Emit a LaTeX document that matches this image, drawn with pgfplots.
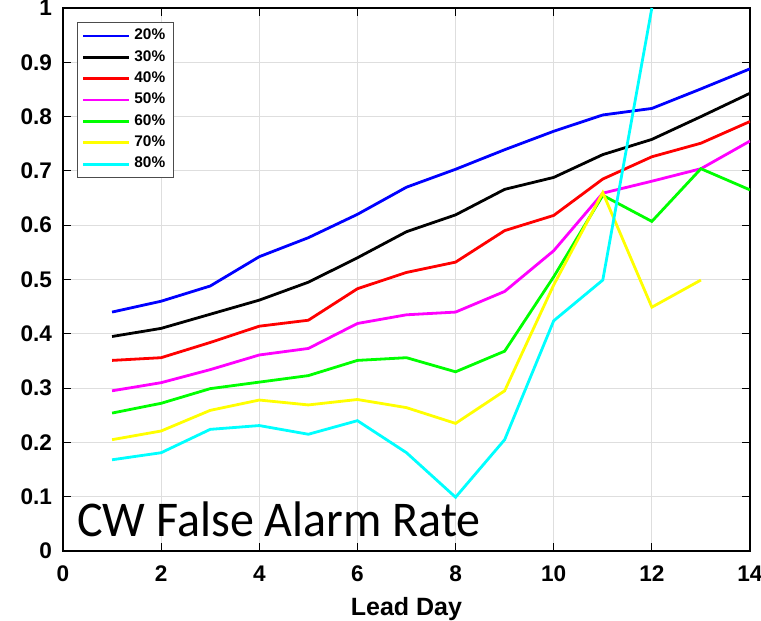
\documentclass[border=0pt]{standalone}
\usepackage{pgfplots}
\pgfplotsset{compat=1.18}
\usepackage{fontspec}
\setmainfont{Liberation Sans}
\newfontfamily\tickfont{Liberation Sans Bold}
\newfontfamily\calibri[FakeStretch=0.96]{Carlito}
\definecolor{cBlue}{RGB}{0,0,255}
\definecolor{cBlack}{RGB}{0,0,0}
\definecolor{cRed}{RGB}{255,0,0}
\definecolor{cMagenta}{RGB}{255,0,255}
\definecolor{cGreen}{RGB}{0,255,0}
\definecolor{cYellow}{RGB}{255,255,0}
\definecolor{cCyan}{RGB}{0,255,255}
\begin{document}
\begin{tikzpicture}
\useasboundingbox (-31.5pt,-35pt) rectangle (349pt,275.5pt);
\begin{axis}[
    at={(0,0)}, anchor=south west,
    scale only axis,
    width=343.5pt,
    height=271.5pt,
    xmin=0, xmax=14,
    ymin=0, ymax=1,
    xtick={0,2,...,14},
    ytick={0,0.1,...,1},
    yticklabels={0,0.1,0.2,0.3,0.4,0.5,0.6,0.7,0.8,0.9,1},
    tick align=inside,
    tick style={black, line width=0.5pt},
    major tick length=4pt,
    xmajorgrids, ymajorgrids,
    grid style={black!13, line width=0.5pt},
    axis line style={black, line width=0.6pt},
    ticklabel style={font=\tickfont\fontsize{11.3}{11.3}\selectfont},
    xticklabel style={yshift=-4pt},
    yticklabel style={xshift=-2pt},
    /pgf/number format/assume math mode=true,
    xlabel={Lead Day},
    xlabel style={font=\tickfont\fontsize{12.5}{12.5}\selectfont, yshift=-1pt},
    legend style={at={(rel axis cs:0.0204,0.974)}, anchor=north west,
        font=\tickfont\fontsize{7.7}{9}\selectfont, draw=black!70, line width=0.6pt,
        row sep=-0.2pt, inner xsep=2pt, inner ysep=1.2pt},
    legend cell align=left,
    legend image code/.code={\draw[#1] (0pt,0pt) -- (23pt,0pt);},
    every axis plot/.append style={line width=1.4pt},
]
\addplot[cBlue] coordinates {(1,0.44) (2,0.46) (3,0.488) (4,0.542) (5,0.577) (6,0.62) (7,0.67) (8,0.703) (9,0.739) (10,0.773) (11,0.803) (12,0.815) (13,0.851) (14,0.888)};
\addplot[cBlack] coordinates {(1,0.395) (2,0.41) (3,0.436) (4,0.462) (5,0.495) (6,0.54) (7,0.588) (8,0.619) (9,0.666) (10,0.688) (11,0.73) (12,0.758) (13,0.8) (14,0.843)};
\addplot[cRed] coordinates {(1,0.351) (2,0.356) (3,0.384) (4,0.414) (5,0.425) (6,0.483) (7,0.513) (8,0.532) (9,0.59) (10,0.618) (11,0.685) (12,0.726) (13,0.751) (14,0.791)};
\addplot[cMagenta] coordinates {(1,0.295) (2,0.31) (3,0.334) (4,0.361) (5,0.373) (6,0.419) (7,0.435) (8,0.44) (9,0.478) (10,0.553) (11,0.659) (12,0.681) (13,0.704) (14,0.755)};
\addplot[cGreen] coordinates {(1,0.254) (2,0.272) (3,0.299) (4,0.311) (5,0.323) (6,0.351) (7,0.356) (8,0.33) (9,0.368) (10,0.505) (11,0.655) (12,0.607) (13,0.704) (14,0.665)};
\addplot[cYellow] coordinates {(1,0.205) (2,0.221) (3,0.259) (4,0.278) (5,0.269) (6,0.279) (7,0.264) (8,0.235) (9,0.295) (10,0.49) (11,0.66) (12,0.449) (13,0.499)};
\addplot[cCyan] coordinates {(1,0.168) (2,0.181) (3,0.224) (4,0.231) (5,0.215) (6,0.24) (7,0.181) (8,0.099) (9,0.205) (10,0.424) (11,0.499) (12,1.0)};
\legend{20\%,30\%,40\%,50\%,60\%,70\%,80\%}
\node[anchor=base west, inner sep=0pt, font=\calibri\fontsize{25}{25}\selectfont] at (axis cs:0.285,0.0258) {CW False Alarm Rate};
\end{axis}
\end{tikzpicture}
\end{document}
